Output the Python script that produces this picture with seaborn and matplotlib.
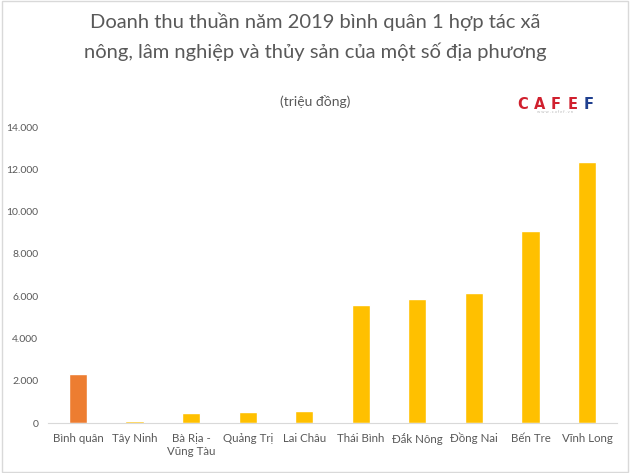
import matplotlib
matplotlib.use("Agg")
import matplotlib.pyplot as plt
import seaborn as sns
import pandas as pd
from matplotlib.patches import Rectangle
from matplotlib.ticker import FuncFormatter

categories = ["Bình quân", "Tây Ninh", "Bà Rịa -\nVũng Tàu", "Quảng Trị", "Lai Châu",
              "Thái Bình", "Đắk Nông", "Đồng Nai", "Bến Tre", "Vĩnh Long"]
values = [2300, 110, 490, 520, 590, 5600, 5850, 6170, 9080, 12350]
bar_colors = ["#ED7D31"] + ["#FFC000"] * 9
yticks = [0, 2000, 4000, 6000, 8000, 10000, 12000, 14000]

sns.set_theme(style="white")
plt.rcParams['font.family'] = ['Lato', 'DejaVu Sans']

df = pd.DataFrame({"cat": categories, "val": values})

fig = plt.figure(figsize=(6.3, 4.73), dpi=100)
ax = fig.add_axes([48/630, 1 - 423/473, (617-48)/630, (423-127)/473])

sns.barplot(data=df, x="cat", y="val", hue="cat", palette=bar_colors, legend=False,
            width=0.32, ax=ax, saturation=1)

ax.set_ylim(0, 14000)
ax.set_xlim(-0.53, 9.53)
ax.set_yticks(yticks)
ax.yaxis.set_major_formatter(FuncFormatter(lambda v, p: f"{int(v):,}".replace(",", ".")))
ax.set_xlabel("")
ax.set_ylabel("")
for s in ["top", "right", "left"]:
    ax.spines[s].set_visible(False)
ax.spines["bottom"].set_color("#D9D9D9")
ax.spines["bottom"].set_linewidth(0.8)
ax.tick_params(axis="both", length=0, colors="#595959")
ax.tick_params(axis="y", pad=7, labelsize=7.5)
ax.tick_params(axis="x", pad=7, labelsize=8.3)
for lbl in ax.get_xticklabels():
    lbl.set_linespacing(1.25)
    lbl.set_verticalalignment("top")

fig.text(0.5, 1 - 22/473, "Doanh thu thuần năm 2019 bình quân 1 hợp tác xã",
         ha="center", va="center", fontsize=14.5, color="#595959")
fig.text(0.5, 1 - 52/473, "nông, lâm nghiệp và thủy sản của một số địa phương",
         ha="center", va="center", fontsize=14.5, color="#595959")
fig.text(0.5, 1 - 102/473, "(triệu đồng)", ha="center", va="center",
         fontsize=10, color="#595959")

# CafeF logo as text
logo_letters = ["C", "A", "F", "E", "F"]
logo_colors = ["#D0202E", "#D0202E", "#D0202E", "#D0202E", "#1F3F8F"]
for i, (ch, col) in enumerate(zip(logo_letters, logo_colors)):
    fig.text((523 + i * 16.5) / 630, 1 - 104/473, ch, ha="center", va="center",
             fontsize=10.5, color=col, fontweight="bold", family=["DejaVu Sans"])
fig.text(555/630, 1 - 112/473, "w w w . c a f e f . v n", ha="center", va="center",
         fontsize=3, color="#B8B8B8")

fig.patches.append(Rectangle((0.003, 0.003), 0.994, 0.994, transform=fig.transFigure,
                             fill=False, edgecolor="#D9D9D9", linewidth=1))

fig.savefig("out.png", dpi=100)
